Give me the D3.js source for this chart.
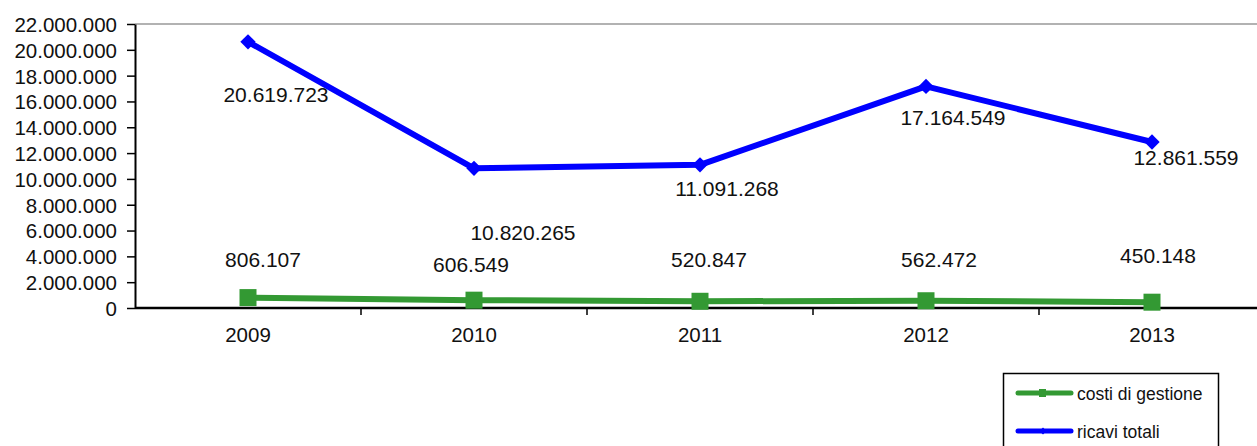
<!DOCTYPE html>
<html>
<head>
<meta charset="utf-8">
<script src="https://cdn.jsdelivr.net/npm/d3@7"></script>
<style>
  body { margin: 0; background: #fff; }
  svg text { font-family: "Liberation Sans", Arial, sans-serif; fill: #111; }
</style>
</head>
<body>
<svg id="chart"></svg>
<script>
let width = 1257;
let height = 446;

let years = ['2009', '2010', '2011', '2012', '2013'];
let costi = [806107, 606549, 520847, 562472, 450148];
let ricavi = [20619723, 10820265, 11091268, 17164549, 12861559];
let yTicks = [0, 2e6, 4e6, 6e6, 8e6, 10e6, 12e6, 14e6, 16e6, 18e6, 20e6, 22e6];
let seriesNames = ['costi di gestione', 'ricavi totali'];

// label offsets (dx, baseline dy) relative to each point, as placed in the original
let ricaviLabelOff = [[28, 60], [49, 72], [27, 31], [27, 39], [34, 23]];
let costiLabelOff = [[15, -31], [-3, -28], [9, -34], [13, -34], [6, -39]];

let margin = {left: 135, top: 24, bottom: 308};
let band = 226;

let svg = d3.select('#chart')
  .attr('width', width)
  .attr('height', height);

let x = d3.scaleBand()
  .domain(years)
  .range([margin.left, margin.left + band * years.length])
  .paddingInner(0).paddingOuter(0);

let y = d3.scaleLinear()
  .domain([0, 22e6])
  .range([margin.bottom, margin.top]);

let fmt = d3.formatLocale({decimal: ',', thousands: '.', grouping: [3], currency: ['', '€']}).format(',d');

// top border of the plot area
svg.append('line')
  .attr('x1', margin.left).attr('x2', width)
  .attr('y1', margin.top).attr('y2', margin.top)
  .attr('stroke', '#999').attr('stroke-width', 1.5);

// y axis
let yAxis = svg.append('g')
  .attr('transform', `translate(${margin.left},0)`)
  .call(d3.axisLeft(y).tickValues(yTicks).tickFormat(fmt).tickSize(8).tickSizeOuter(0));
yAxis.select('.domain').attr('stroke', '#000').attr('stroke-width', 2);
yAxis.selectAll('.tick line').attr('stroke', '#000').attr('stroke-width', 1.5);
yAxis.selectAll('.tick text').attr('x', -18).attr('font-size', 20.5).attr('dy', '0.36em');

// x axis with ticks at band boundaries
let xAxis = svg.append('g')
  .attr('transform', `translate(0,${margin.bottom})`);
xAxis.append('line')
  .attr('x1', margin.left).attr('x2', width)
  .attr('stroke', '#000').attr('stroke-width', 2.5);
xAxis.selectAll('line.tk')
  .data(years.slice(1))
  .join('line')
  .attr('class', 'tk')
  .attr('x1', d => x(d)).attr('x2', d => x(d))
  .attr('y1', 0).attr('y2', 7)
  .attr('stroke', '#000').attr('stroke-width', 1.5);
xAxis.selectAll('text')
  .data(years)
  .join('text')
  .attr('x', d => x(d) + x.bandwidth() / 2)
  .attr('y', 34)
  .attr('text-anchor', 'middle')
  .attr('font-size', 20.5)
  .text(d => d);

let cx = (d, i) => x(years[i]) + x.bandwidth() / 2;
let line = d3.line()
  .x((d, i) => cx(d, i))
  .y(d => y(d));

// ricavi totali (blue)
svg.append('path')
  .attr('d', line(ricavi))
  .attr('fill', 'none')
  .attr('stroke', '#0000ff')
  .attr('stroke-width', 6)
  .attr('stroke-linejoin', 'round');
svg.selectAll('path.diam')
  .data(ricavi)
  .join('path')
  .attr('class', 'diam')
  .attr('d', d3.symbol(d3.symbolDiamond2, 150))
  .attr('transform', (d, i) => `translate(${cx(d, i)},${y(d)})`)
  .attr('fill', '#0000ff');

// costi di gestione (green)
svg.append('path')
  .attr('d', line(costi))
  .attr('fill', 'none')
  .attr('stroke', '#339933')
  .attr('stroke-width', 6)
  .attr('stroke-linejoin', 'round');
svg.selectAll('rect.sq')
  .data(costi)
  .join('rect')
  .attr('class', 'sq')
  .attr('x', (d, i) => cx(d, i) - 8.5)
  .attr('y', d => y(d) - 8.5)
  .attr('width', 17).attr('height', 17)
  .attr('fill', '#339933');

// data labels
svg.selectAll('text.rl')
  .data(ricavi)
  .join('text')
  .attr('class', 'rl')
  .attr('x', (d, i) => cx(d, i) + ricaviLabelOff[i][0])
  .attr('y', (d, i) => y(d) + ricaviLabelOff[i][1])
  .attr('text-anchor', 'middle')
  .attr('font-size', 21)
  .text(d => fmt(d));
svg.selectAll('text.cl')
  .data(costi)
  .join('text')
  .attr('class', 'cl')
  .attr('x', (d, i) => cx(d, i) + costiLabelOff[i][0])
  .attr('y', (d, i) => y(d) + costiLabelOff[i][1])
  .attr('text-anchor', 'middle')
  .attr('font-size', 21)
  .text(d => fmt(d));

// legend
let lg = svg.append('g');
lg.append('rect')
  .attr('x', 1003.5).attr('y', 373.5)
  .attr('width', 215).attr('height', 90)
  .attr('fill', '#fff').attr('stroke', '#000').attr('stroke-width', 1.5);
let legendColors = ['#339933', '#0000ff'];
let legendY = [393, 431];
seriesNames.forEach((name, i) => {
  lg.append('line')
    .attr('x1', 1018).attr('x2', 1071)
    .attr('y1', legendY[i]).attr('y2', legendY[i])
    .attr('stroke', legendColors[i]).attr('stroke-width', 5)
    .attr('stroke-linecap', 'round');
  if (i === 0) {
    lg.append('rect')
      .attr('x', 1039).attr('y', legendY[i] - 4)
      .attr('width', 7).attr('height', 8)
      .attr('fill', legendColors[i]);
  } else {
    lg.append('path')
      .attr('d', d3.symbol(d3.symbolDiamond2, 30))
      .attr('transform', `translate(1043,${legendY[i]})`)
      .attr('fill', legendColors[i]);
  }
  lg.append('text')
    .attr('x', 1077).attr('y', legendY[i] + 6.5)
    .attr('font-size', 17.5)
    .text(name);
});
</script>
</body>
</html>
